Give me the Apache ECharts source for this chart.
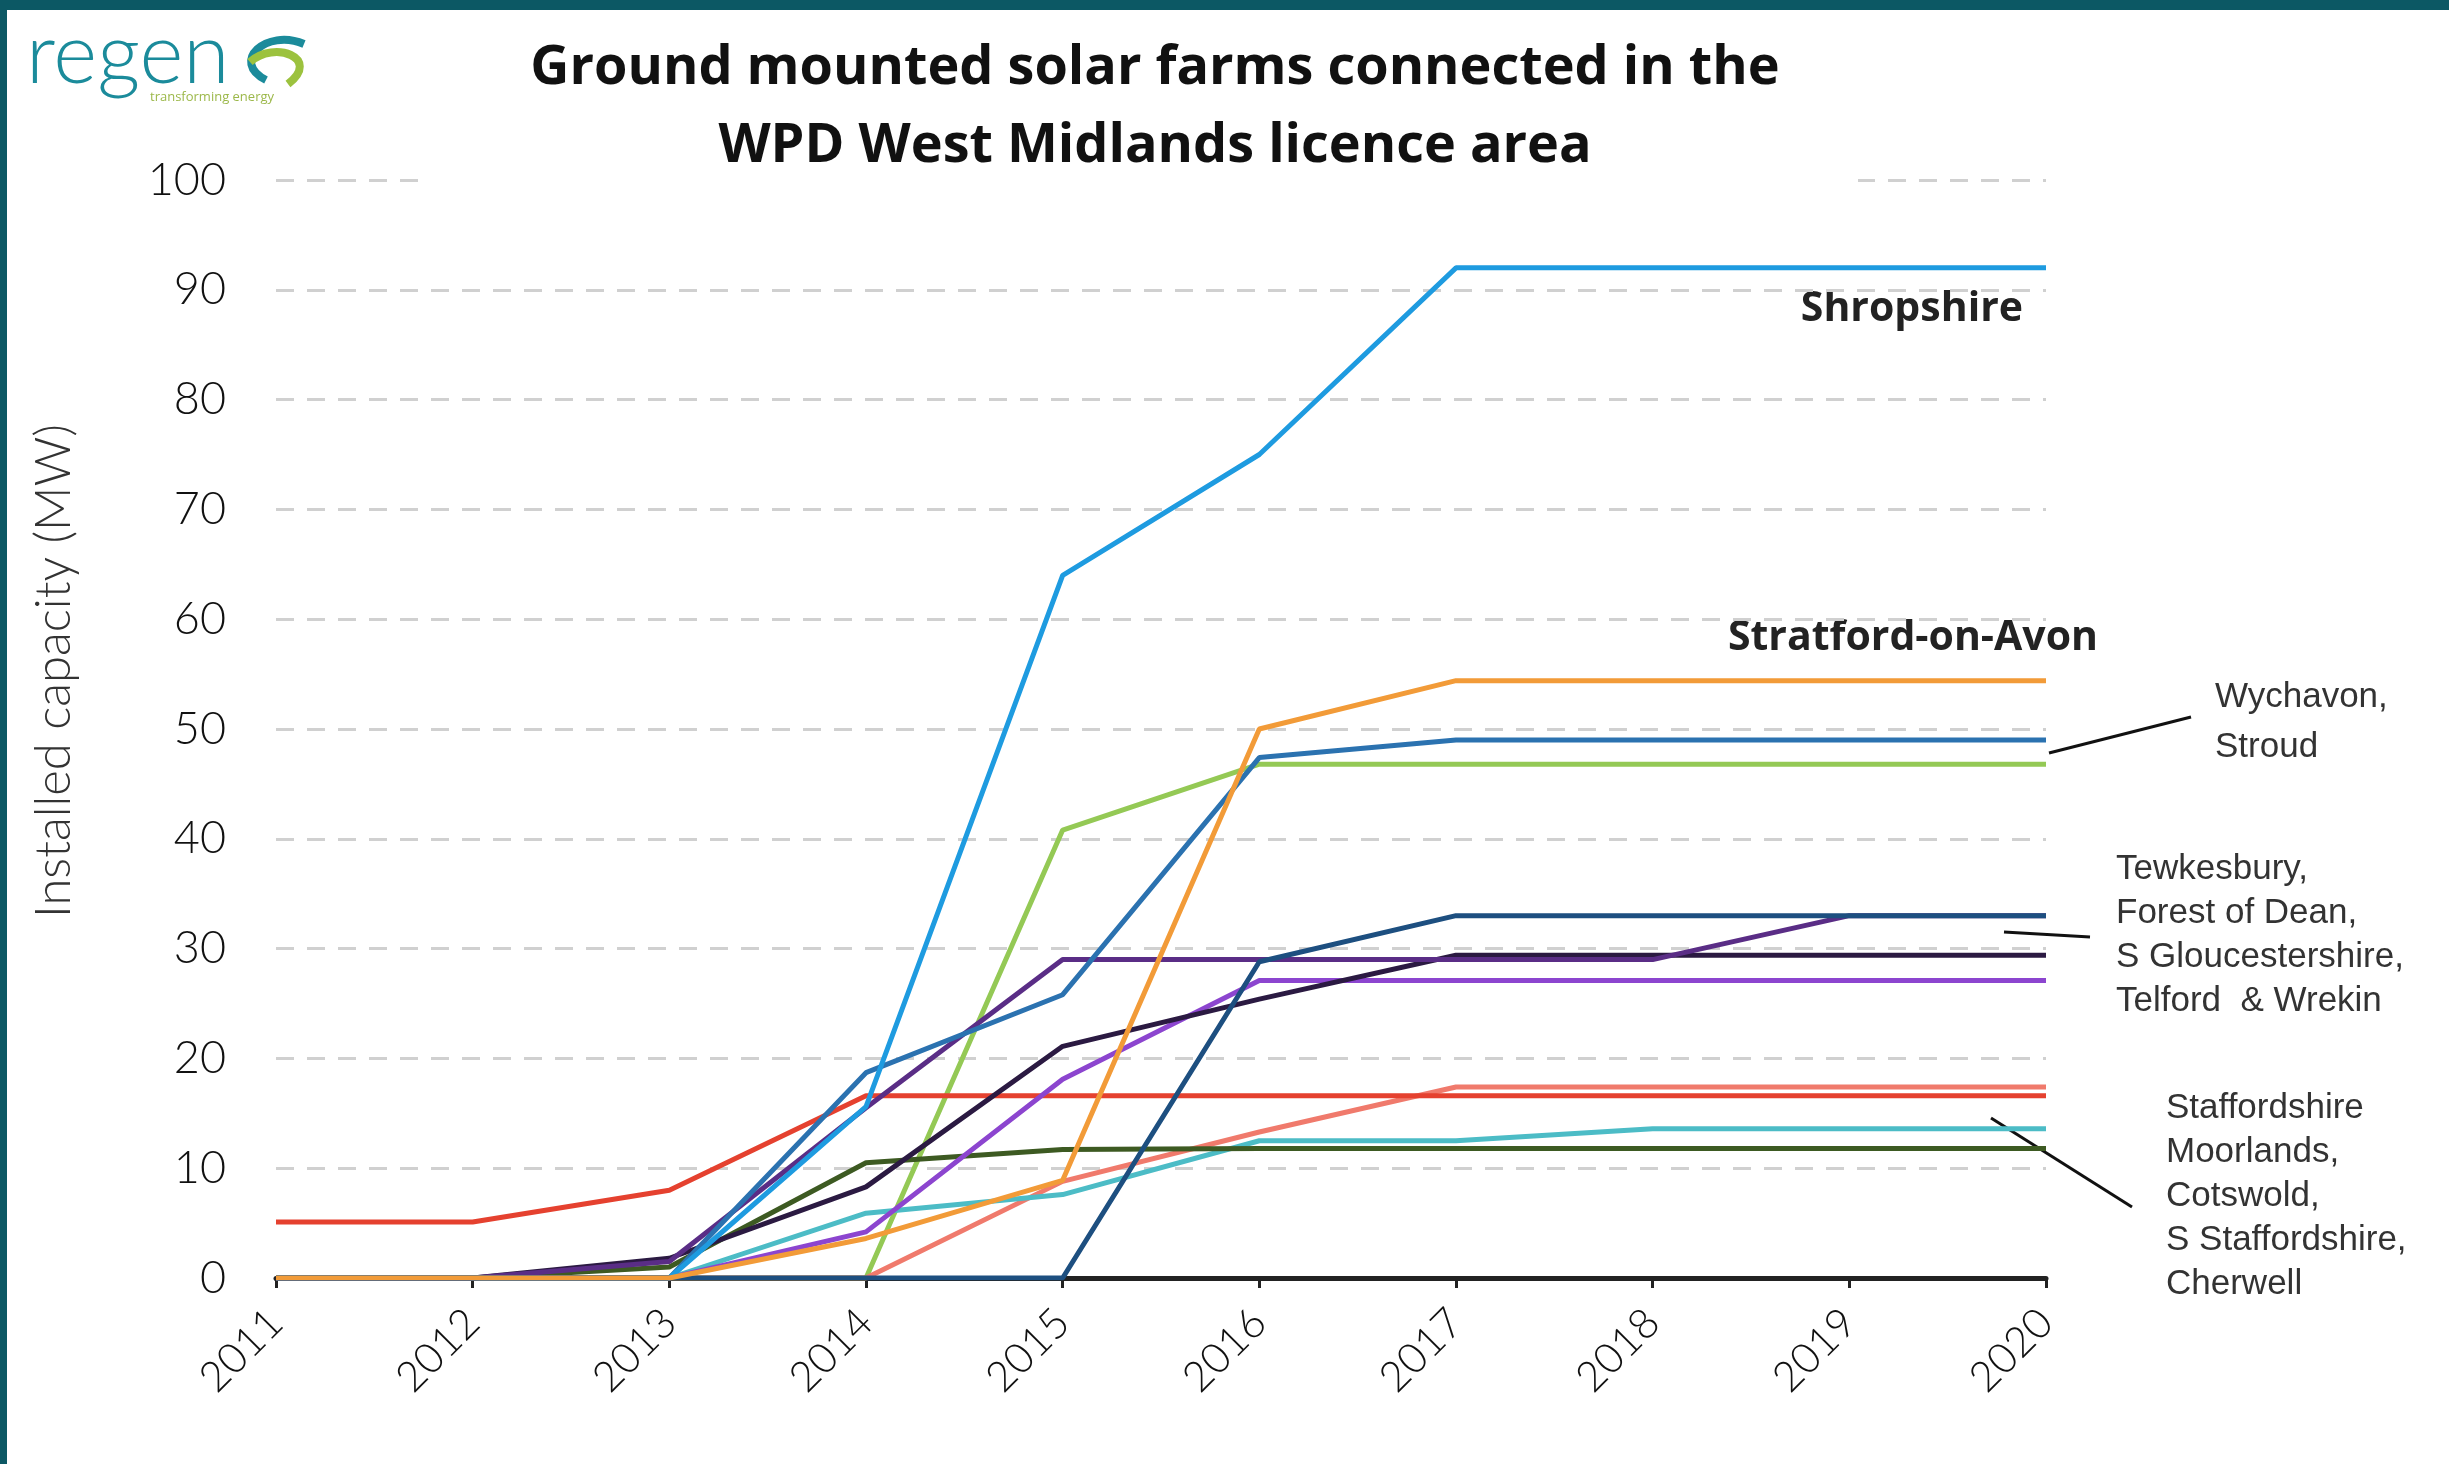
<!DOCTYPE html>
<html>
<head>
<meta charset="utf-8">
<title>Ground mounted solar farms - WPD West Midlands</title>
<script src="https://cdn.jsdelivr.net/npm/echarts@6/dist/echarts.min.js"></script>
<style>
  html, body { margin: 0; padding: 0; background: #fff; }
  #chart { width: 2449px; height: 1464px; }
</style>
</head>
<body>
<div id="chart"></div>
<script>
// x axis years
const years = ['2011', '2012', '2013', '2014', '2015', '2016', '2017', '2018', '2019', '2020'];
const yTicks = { min: 0, max: 100, step: 10 };

// installed capacity (MW)
const shropshire   = [0, 0, 0, 15.6, 64, 75, 92, 92, 92, 92];
const wychavon     = [0, 0, 0, 18.7, 25.8, 47.4, 49, 49, 49, 49];
const stroud       = [0, 0, 0, 0, 40.8, 46.8, 46.8, 46.8, 46.8, 46.8];
const tewkesbury   = [0, 0, 0, 0, 0, 28.8, 33, 33, 33, 33];
const forestOfDean = [0, 0, 1.5, 15.5, 29, 29, 29, 29, 33, 33];
const sGlos        = [0, 0, 1.8, 8.3, 21.1, 25.4, 29.4, 29.4, 29.4, 29.4];
const telford      = [0, 0, 0, 4.2, 18.1, 27.1, 27.1, 27.1, 27.1, 27.1];
const staffsMoor   = [5.1, 5.1, 8, 16.6, 16.6, 16.6, 16.6, 16.6, 16.6, 16.6];
const cotswold     = [0, 0, 0, 0, 8.8, 13.3, 17.4, 17.4, 17.4, 17.4];
const sStaffs      = [0, 0, 0, 5.9, 7.6, 12.5, 12.5, 13.6, 13.6, 13.6];
const cherwell     = [0, 0, 1, 10.5, 11.7, 11.8, 11.8, 11.8, 11.8, 11.8];
const stratford    = [0, 0, 0, 3.6, 8.9, 50, 54.4, 54.4, 54.4, 54.4];

const chart = echarts.init(document.getElementById('chart'));

// draw order matters: later lines sit on top of the zero line
const lines = [
  { name: 'Stroud', data: stroud, color: '#94c955' },
  { name: 'Cotswold', data: cotswold, color: '#f07a6c' },
  { name: 'S Staffordshire', data: sStaffs, color: '#4cbcc6' },
  { name: 'Cherwell', data: cherwell, color: '#3d5a22' },
  { name: 'Staffordshire Moorlands', data: staffsMoor, color: '#e5412f' },
  { name: 'Telford & Wrekin', data: telford, color: '#8c45cf' },
  { name: 'S Gloucestershire', data: sGlos, color: '#2b1a42' },
  { name: 'Forest of Dean', data: forestOfDean, color: '#5a2d86' },
  { name: 'Wychavon', data: wychavon, color: '#2b72b0' },
  { name: 'Shropshire', data: shropshire, color: '#1e9be0' },
  { name: 'Tewkesbury', data: tewkesbury, color: '#1d4f80' },
  { name: 'Stratford-on-Avon', data: stratford, color: '#f29b38' }
];

const labelFont = '"Liberation Sans", Arial, sans-serif';
const noteStyle = { fill: '#333', font: '35px ' + labelFont, lineHeight: 44 };
const boldFont = 'bold 41px "Open Sans", "Noto Sans", sans-serif';

chart.setOption({
  animation: false,
  backgroundColor: '#fff',
  title: {
    text: 'Ground mounted solar farms connected in the\nWPD West Midlands licence area',
    left: 1150,
    top: 25,
    textAlign: 'center',
    textStyle: {
      fontFamily: '"Open Sans", "Noto Sans", sans-serif',
      fontWeight: 'bold',
      fontSize: 54,
      lineHeight: 78,
      color: '#111'
    }
  },
  grid: { left: 276, right: 403, top: 180, bottom: 186 },
  xAxis: {
    type: 'category',
    data: years,
    boundaryGap: false,
    axisLine: { lineStyle: { color: '#222', width: 5 } },
    axisTick: { show: true, length: 10, lineStyle: { color: '#222', width: 3 } },
    axisLabel: {
      rotate: 45,
      margin: 38,
      fontSize: 42,
      fontWeight: 300,
      fontFamily: 'Lato, "Open Sans", sans-serif',
      color: '#111'
    }
  },
  yAxis: {
    type: 'value',
    min: yTicks.min,
    max: yTicks.max,
    interval: yTicks.step,
    axisLine: { show: false },
    axisTick: { show: false },
    axisLabel: {
      margin: 50,
      fontSize: 45,
      fontWeight: 300,
      fontFamily: 'Lato, "Open Sans", sans-serif',
      color: '#111'
    },
    splitLine: { lineStyle: { color: '#d0d0d0', width: 3, type: [18, 13] } }
  },
  series: lines.map(l => ({
    name: l.name,
    type: 'line',
    data: l.data,
    showSymbol: false,
    lineStyle: { color: l.color, width: 5 },
    itemStyle: { color: l.color }
  })),
  graphic: [
    // frame
    { type: 'rect', shape: { x: 0, y: 0, width: 2449, height: 10 }, style: { fill: '#0c5864' }, z: 10 },
    { type: 'rect', shape: { x: 0, y: 0, width: 7, height: 1464 }, style: { fill: '#0c5864' }, z: 10 },
    // title box hides the top grid line
    { type: 'rect', shape: { x: 424, y: 166, width: 1434, height: 28 }, style: { fill: '#fff' }, z: 1 },
    // logo
    { type: 'text', x: 26, y: 56, style: { text: 'regen', fill: '#1b8b9b', font: '300 84px Lato, "Open Sans", sans-serif', textVerticalAlign: 'middle' } },
    { type: 'bezierCurve', shape: { x1: 304, y1: 44, cpx1: 266, cpy1: 28, cpx2: 230, cpy2: 62, x2: 266, y2: 80 }, style: { stroke: '#1b8b9b', lineWidth: 8, fill: null } },
    { type: 'bezierCurve', shape: { x1: 250, y1: 62, cpx1: 274, cpy1: 40, cpx2: 322, cpy2: 58, x2: 288, y2: 84 }, style: { stroke: '#9cc23e', lineWidth: 8, fill: null } },
    { type: 'text', x: 150, y: 97, style: { text: 'transforming energy', fill: '#9cb84a', font: '13px "Open Sans", sans-serif', textVerticalAlign: 'middle' } },
    // y axis name
    { type: 'text', x: 54, y: 671, rotation: Math.PI / 2, style: { text: 'Installed capacity (MW)', fill: '#333', font: '300 49px Lato, "Open Sans", sans-serif', textAlign: 'center', textVerticalAlign: 'middle' } },
    // line labels
    { type: 'text', x: 2023, y: 309, style: { text: 'Shropshire', fill: '#222', font: boldFont, textAlign: 'right', textVerticalAlign: 'middle' } },
    { type: 'text', x: 2098, y: 638, style: { text: 'Stratford-on-Avon', fill: '#222', font: boldFont, textAlign: 'right', textVerticalAlign: 'middle' } },
    { type: 'text', x: 2215, y: 722, style: Object.assign({ text: 'Wychavon,\nStroud', textVerticalAlign: 'middle' }, noteStyle, { lineHeight: 50 }) },
    { type: 'text', x: 2116, y: 935, style: Object.assign({ text: 'Tewkesbury,\nForest of Dean,\nS Gloucestershire,\nTelford  & Wrekin', textVerticalAlign: 'middle' }, noteStyle) },
    { type: 'text', x: 2166, y: 1196, style: Object.assign({ text: 'Staffordshire\nMoorlands,\nCotswold,\nS Staffordshire,\nCherwell', textVerticalAlign: 'middle' }, noteStyle) },
    // pointers
    { type: 'line', shape: { x1: 2049, y1: 753, x2: 2191, y2: 717 }, style: { stroke: '#111', lineWidth: 3 } },
    { type: 'line', shape: { x1: 2004, y1: 932, x2: 2090, y2: 937 }, style: { stroke: '#111', lineWidth: 3 } },
    { type: 'line', shape: { x1: 1991, y1: 1118, x2: 2132, y2: 1207 }, style: { stroke: '#111', lineWidth: 3 } }
  ]
});
</script>
</body>
</html>
